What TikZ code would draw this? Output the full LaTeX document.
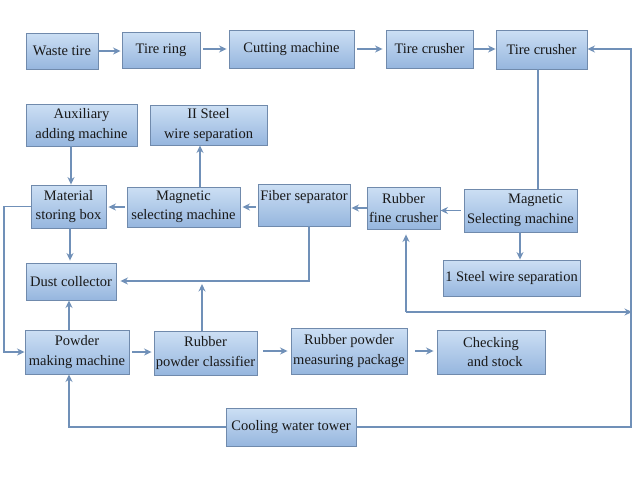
\documentclass[tikz,border=0pt]{standalone}
\usepackage{fontspec}
\setmainfont{Liberation Serif}
\usetikzlibrary{arrows.meta,calc}
\definecolor{boxline}{RGB}{112,138,172}
\definecolor{boxtop}{RGB}{204,223,244}
\definecolor{boxbot}{RGB}{150,182,222}
\definecolor{arr}{RGB}{112,144,184}
\begin{document}
\begin{tikzpicture}[x=1pt,y=-1pt,
  box/.style={draw=boxline, line width=0.9pt, top color=boxtop, bottom color=boxbot,
    inner sep=0pt, align=center, font=\fontsize{14.5}{19.5}\selectfont, text=black!90},
  sz/.style 2 args={minimum width=#1pt, minimum height=#2pt},
  conn/.style={draw=arr, line width=1.4pt},
  arrow/.style={conn, -{Stealth[length=7.5pt,width=7pt]}}]
\useasboundingbox[fill=white] (0,0) rectangle (640,480);

% row 1
\node[box, sz={72}{36}] (wt) at (62,51) {Waste tire};
\node[box, sz={78}{36}] (tr) at (161,50) {Tire ring};
\node[box, sz={125}{38}] (cm) at (291.5,49) {Cutting machine};
\node[box, sz={87}{38}] (tc1) at (429.5,49) {Tire crusher};
\node[box, sz={91}{39}] (tc2) at (541.5,49.5) {Tire crusher};
% row 2
\node[box, sz={111}{42}] (aux) at (81.5,125) {Auxiliary\\adding machine};
\node[box, sz={117}{40}] (ii) at (208.5,125) {II Steel\hspace{20pt}\\wire separation};
% row 3
\node[box, sz={75}{43}] (msb) at (68.5,206.5) {Material\\storing box};
\node[box, sz={113}{40}] (ms1) at (183.5,207) {Magnetic\\selecting machine};
\node[box, sz={92}{42}] (fs) at (304,205) {Fiber separator\\\mbox{}};
\node[box, sz={73}{42}] (rfc) at (403.5,208) {Rubber\\fine crusher};
\node[box, sz={113}{43}] (ms2) at (520.5,210.5) {\hspace{30pt}Magnetic\\Selecting machine};
\node[box, sz={137}{36}] (sw1) at (511.5,278) {1 Steel wire separation};
% row 4
\node[box, sz={90}{37}] (dc) at (71,281.5) {Dust collector};
% row 5
\node[box, sz={104}{44}] (pm) at (77,352) {Powder\\making machine};
\node[box, sz={103}{44}] (rpc) at (205.5,353) {Rubber\\powder classifier};
\node[box, sz={116}{46}] (rpm) at (349,351) {Rubber powder\\measuring package};
\node[box, sz={108}{44}] (cs) at (491,352) {Checking\hspace{6pt}\\\hspace{8pt}and stock};
% row 6
\node[box, sz={130}{38}] (cwt) at (291,427) {Cooling water tower};

% helper coordinates
\coordinate (r1) at (631,49);
\coordinate (r2) at (631,427);
\coordinate (j1) at (406,312);
\coordinate (l1) at (4,208);
\coordinate (l2) at (69,427);
\coordinate (f1) at (309,281);
\coordinate (xa) at (71,0);
\coordinate (xb) at (70,0);
\coordinate (xc) at (69,0);
\coordinate (xd) at (200,0);
\coordinate (xe) at (538,0);
\coordinate (xf) at (520,0);
\coordinate (xg) at (202,0);

% row 1 arrows
\draw[arrow, shorten >=1pt] (wt.east) -- (wt.east -| tr.west);
\draw[arrow, shorten <=3pt, shorten >=2pt] (tr.east |- cm.west) -- (cm.west);
\draw[arrow, shorten <=3pt, shorten >=3pt] (cm.east) -- (cm.east -| tc1.west);
\draw[arrow, shorten <=1pt] (tc1.east) -- (tc1.east -| tc2.west);
\draw[conn] (tc2.south -| xe) -- (ms2.north -| xe);

% right loop
\draw[arrow] (cwt.east) -- (r2) -- (r1) -- (r1 -| tc2.east);
\draw[arrow, shorten >=-1pt] (j1) -- (j1 -| r1);
\draw[arrow, shorten >=5pt] (j1) -- (j1 |- rfc.south);

% row 3 chain
\draw[arrow, shorten <=3pt] (ms2.west) -- (ms2.west -| rfc.east);
\draw[arrow, shorten >=1pt] (rfc.west) -- (rfc.west -| fs.east);
\draw[arrow, shorten <=2pt, shorten >=2pt] (fs.west |- ms1.east) -- (ms1.east);
\draw[arrow, shorten <=2pt, shorten >=2pt] (ms1.west) -- (ms1.west -| msb.east);
\draw[arrow] (ms1.north -| xd) -- (ii.south -| xd);
\draw[arrow] (aux.south -| xa) -- (msb.north -| xa);
\draw[arrow] (ms2.south -| xf) -- (sw1.north -| xf);

% dust collector
\draw[arrow, shorten >=2pt] (msb.south -| xb) -- (dc.north -| xb);
\draw[arrow] (pm.north -| xc) -- (dc.south -| xc);
\draw[arrow, shorten >=4pt] (fs.south -| f1) -- (f1) -- (f1 -| dc.east);
\draw[arrow, shorten >=3pt] (rpc.north -| xg) -- (f1 -| xg);

% left loop
\draw[arrow] (msb.west) -- (msb.west -| l1) -- (l1 |- pm.west) -- (pm.west);
\draw[arrow] (cwt.west) -- (l2) -- (l2 |- pm.south);

% row 5 chain
\draw[arrow, shorten <=3pt, shorten >=2pt] (pm.east) -- (pm.east -| rpc.west);
\draw[arrow, shorten <=6pt, shorten >=3pt] (rpc.east |- rpm.west) -- (rpm.west);
\draw[arrow, shorten <=8pt, shorten >=3pt] (rpm.east) -- (rpm.east -| cs.west);
\end{tikzpicture}
\end{document}
